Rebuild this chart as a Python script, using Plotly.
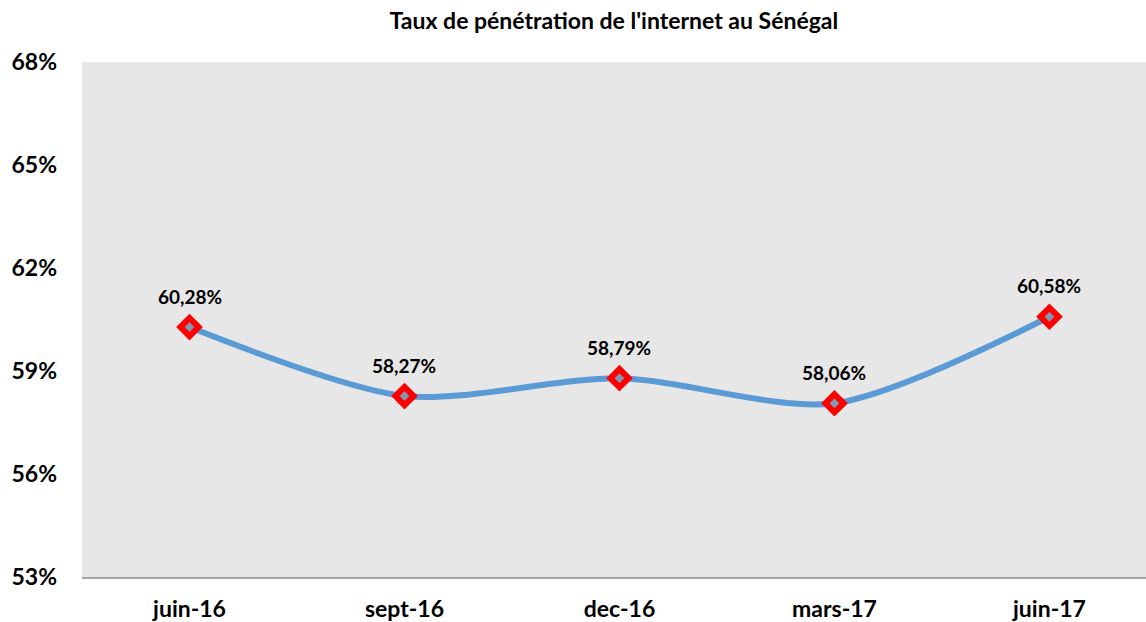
import plotly.graph_objects as go

categories = ["juin-16", "sept-16", "dec-16", "mars-17", "juin-17"]
values = [0.6028, 0.5827, 0.5879, 0.5806, 0.6058]
y_ticks = [0.53, 0.56, 0.59, 0.62, 0.65, 0.68]
title_text = "Taux de pénétration de l'internet au Sénégal"

FONT = "Lato"
xs = list(range(len(categories)))
labels = [f"{v*100:.2f}%".replace(".", ",") for v in values]

fig = go.Figure()
fig.add_trace(go.Scatter(
    x=xs,
    y=values,
    mode="lines+markers",
    line=dict(color="#5b9bd5", width=6, shape="spline", smoothing=0.8),
    marker=dict(symbol="diamond", size=14, color="#8497b0",
                line=dict(color="#ff0000", width=6)),
    cliponaxis=False,
    hoverinfo="skip",
))

for x, v, t in zip(xs, values, labels):
    fig.add_annotation(x=x, y=v, text=t, showarrow=False, yshift=31,
                       font=dict(family=FONT, size=19, color="#000000", weight="bold"))

fig.update_layout(
    width=1146, height=622,
    margin=dict(l=82, r=0, t=62, b=45, autoexpand=False),
    paper_bgcolor="#ffffff",
    plot_bgcolor="#e7e7e7",
    showlegend=False,
    separators=",.",
    title=dict(text=title_text, x=0.5357, xanchor="center", y=0.967, yanchor="middle",
               font=dict(family=FONT, size=23, color="#000000", weight="bold")),
    xaxis=dict(
        range=[-0.5, 4.449],
        tickvals=xs,
        ticktext=categories,
        automargin=False,
        showgrid=False, zeroline=False,
        showline=True, linecolor="#a6a6a6", linewidth=1.5,
        ticks="", ticklabelstandoff=11,
        tickfont=dict(family=FONT, size=23, color="#000000", weight="bold"),
    ),
    yaxis=dict(
        range=[0.53, 0.68],
        tickvals=y_ticks,
        tickformat=".0%",
        automargin=False,
        showgrid=False, zeroline=False, showline=False,
        ticks="", ticklabelstandoff=24,
        tickfont=dict(family=FONT, size=23, color="#000000", weight="bold"),
    ),
)

fig.write_html("out.html",
               config={"displayModeBar": False},
               post_script="document.body.style.margin='0';document.body.style.overflow='hidden';")
